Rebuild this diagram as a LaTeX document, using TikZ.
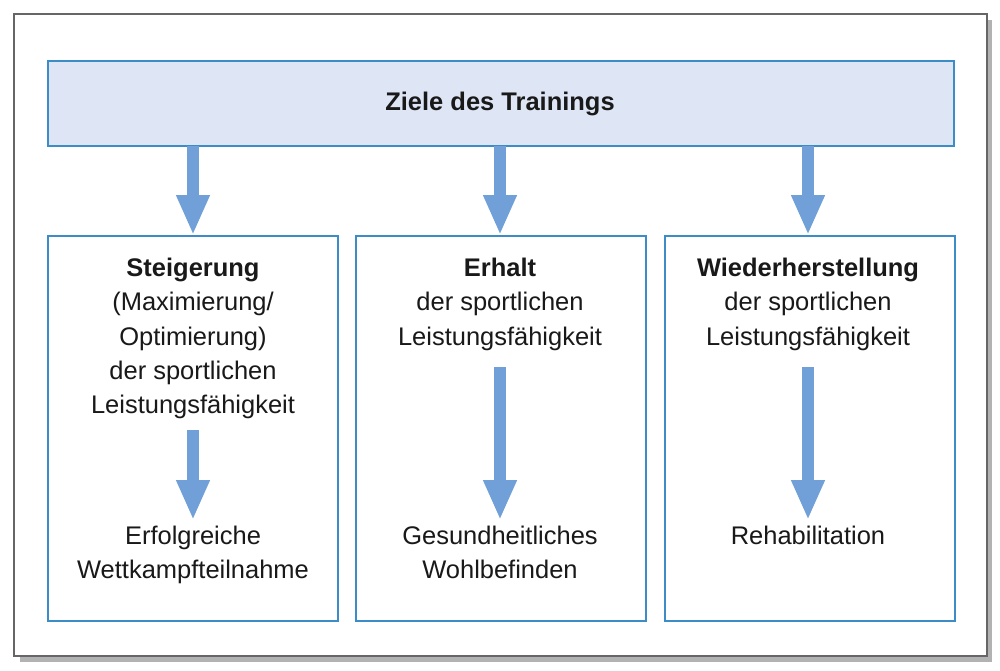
\documentclass[tikz,border=0pt]{standalone}
\usepackage{fontspec}
\setmainfont{Liberation Sans}
\usetikzlibrary{arrows.meta}
\definecolor{fr}{RGB}{60,140,200}
\definecolor{lb}{RGB}{222,230,246}
\definecolor{ar}{RGB}{112,160,215}
\tikzset{
  box/.style={draw=fr,line width=1.2pt,fill=white},
  txt/.style={align=center,font=\fontsize{14.5}{19.5}\selectfont,text=black!90},
  bigarrow/.style={draw=ar,line width=0.24cm,-{Triangle[width=0.62cm,length=0.8cm]}}
}
\begin{document}
\begin{tikzpicture}[x=0.02cm,y=-0.02cm]
\useasboundingbox (0,0) rectangle (1000,671);
\fill[black!30] (20,20) rectangle (992,662);
\draw[black!60,fill=white,line width=0.6pt] (14,14) rectangle (987,656);
\node[box,fill=lb,minimum width=18.12cm,minimum height=1.7cm,anchor=north west] (top) at (47,60) {};
\node[txt,font=\fontsize{14.5}{19.5}\selectfont\bfseries] (tt) at (500,104) {Ziele des Trainings};
\node[box,minimum width=5.8cm,minimum height=7.7cm,anchor=north west] (b1) at (47,235) {};
\node[box,minimum width=5.8cm,minimum height=7.7cm,anchor=north west] (b2) at (355,235) {};
\node[box,minimum width=5.8cm,minimum height=7.7cm,anchor=north west] (b3) at (664,235) {};
\node[txt,anchor=north] (t1) at (193,252) {\textbf{Steigerung}\\(Maximierung/\\Optimierung)\\der sportlichen\\Leistungsfähigkeit};
\node[txt,anchor=north] (t2) at (500,252) {\textbf{Erhalt}\\der sportlichen\\Leistungsfähigkeit};
\node[txt,anchor=north] (t3) at (808,252) {\textbf{Wiederherstellung}\\der sportlichen\\Leistungsfähigkeit};
\node[txt,anchor=north] (u1) at (193,520) {Erfolgreiche\\Wettkampfteilnahme};
\node[txt,anchor=north] (u2) at (500,520) {Gesundheitliches\\Wohlbefinden};
\node[txt,anchor=north] (u3) at (808,520) {Rehabilitation};
\coordinate (a1) at (193,146); \coordinate (a2) at (500,146); \coordinate (a3) at (808,146);
\draw[bigarrow] (a1) -- (a1 |- b1.north);
\draw[bigarrow] (a2) -- (a2 |- b2.north);
\draw[bigarrow] (a3) -- (a3 |- b3.north);
\coordinate (c1) at (193,430); \coordinate (c2) at (500,367); \coordinate (c3) at (808,367);
\draw[bigarrow] (c1) -- (c1 |- u1.north);
\draw[bigarrow] (c2) -- (c2 |- u2.north);
\draw[bigarrow] (c3) -- (c3 |- u3.north);
\end{tikzpicture}
\end{document}
